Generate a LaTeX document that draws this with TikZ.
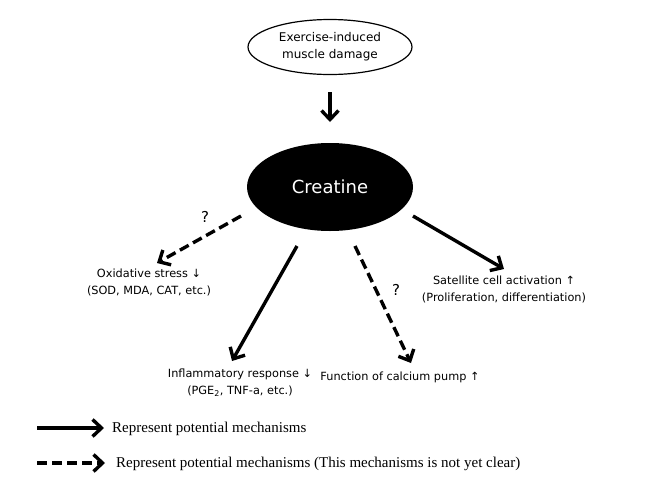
\documentclass[tikz,border=0pt]{standalone}
\usepackage{fontspec}
\setmainfont{DejaVu Sans}
\newfontfamily\legendfont{Liberation Serif}
\usetikzlibrary{arrows.meta,shapes.geometric}
\begin{document}
\begin{tikzpicture}[x=1pt,y=-1pt,
  lbl/.style={font=\fontsize{11.3}{17}\selectfont, align=center, inner sep=0pt},
  conn/.style={line width=3.4pt, -{Straight Barb[length=9pt,width=17pt,line width=3.4pt]}},
  dconn/.style={conn, dash pattern=on 10pt off 5pt},
  legtext/.style={font=\legendfont\fontsize{15}{17}\selectfont, anchor=west, inner sep=0pt}]
\useasboundingbox (0,0) rectangle (649,480);
\fill[white] (0,0) rectangle (649,480);
% top node
\node[ellipse, draw, line width=1.2pt, minimum width=164pt, minimum height=55pt, align=center, inner sep=0pt, font=\fontsize{12}{17}\selectfont] (damage) at (330,47) {Exercise-induced\\muscle damage};
\node[ellipse, fill=black, minimum width=166pt, minimum height=88pt, text=white, font=\fontsize{18}{20}\selectfont] (creatine) at (330,187) {Creatine};
% outcomes
\node[lbl] (oxid) at (149,282) {Oxidative stress ↓\\(SOD, MDA, CAT, etc.)};
\node[lbl] (inflam) at (240,383) {Inflammatory response ↓\\(PGE\textsubscript{2}, TNF-a, etc.)};
\node[lbl] (calcium) at (400,377) {Function of calcium pump ↑};
\node[lbl] (satellite) at (504,289) {Satellite cell activation ↑\\(Proliferation, differentiation)};
% question marks
\node[lbl, font=\fontsize{15}{17}\selectfont] (q1) at (205,217) {?};
\node[lbl, font=\fontsize{15}{17}\selectfont] (q2) at (396,290) {?};
% connector ends
\coordinate (dtop) at (330,92);
\coordinate (dbot) at (330,122);
\coordinate (s1) at (241,216);
\coordinate (e1) at (157,263);
\coordinate (s2) at (297,246);
\coordinate (e2) at (232,361);
\coordinate (s3) at (355,246);
\coordinate (e3) at (411,363);
\coordinate (s4) at (413,216);
\coordinate (e4) at (504,269);
\draw[conn] (dtop) -- (dbot);
\draw[dconn] (s1) -- (e1);
\draw[conn] (s2) -- (e2);
\draw[dconn] (s3) -- (e3);
\draw[conn] (s4) -- (e4);
% legend
\coordinate (l1s) at (37,428);
\coordinate (l1e) at (104,428);
\coordinate (l2s) at (37,463);
\coordinate (l2e) at (105,463);
\draw[conn] (l1s) -- (l1e);
\draw[dconn] (l2s) -- (l2e);
\node[legtext] (leg1) at (112,429) {Represent potential mechanisms};
\node[legtext] (leg2) at (116,464) {Represent potential mechanisms (This mechanisms is not yet clear)};
\end{tikzpicture}
\end{document}
